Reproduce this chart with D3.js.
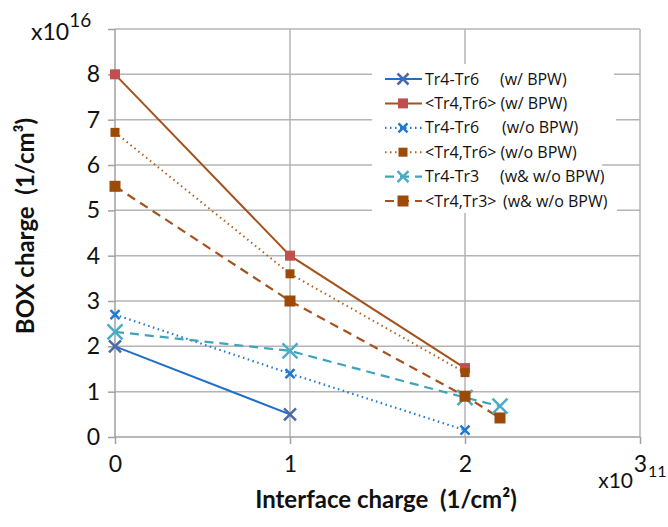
<!DOCTYPE html>
<html>
<head>
<meta charset="utf-8">
<script src="https://cdn.jsdelivr.net/npm/d3@7"></script>
<style>
  body { margin: 0; background: #fff; }
  svg { display: block; font-family: Lato, "Open Sans", sans-serif; }
</style>
</head>
<body>
<script>
// Chart data
var xTicks = [0, 1, 2, 3];
var yTicks = [0, 1, 2, 3, 4, 5, 6, 7, 8, 9];
var yTickLabels = ["0", "1", "2", "3", "4", "5", "6", "7", "8", ""];

var seriesNames = ["Tr4-Tr6", "<Tr4,Tr6> (w/ BPW)", "Tr4-Tr6", "<Tr4,Tr6> (w/o BPW)", "Tr4-Tr3", "<Tr4,Tr3>"];
var seriesNotes = ["(w/ BPW)", "", "(w/o BPW)", "", "(w& w/o BPW)", "(w& w/o BPW)"];
var seriesX = [
  [0, 1],
  [0, 1, 2],
  [0, 1, 2],
  [0, 1, 2],
  [0, 1, 2, 2.2],
  [0, 1, 2, 2.2]
];
var seriesY = [
  [2.0, 0.5],
  [8.0, 4.0, 1.52],
  [2.7, 1.4, 0.15],
  [6.72, 3.6, 1.42],
  [2.32, 1.9, 0.87, 0.68],
  [5.53, 3.0, 0.9, 0.42]
];

// Styles for each series
var styles = [
  {line: "#1f6fc9", dash: null, marker: "x", mcolor: "#4a6aaa", size: 12, width: 2},
  {line: "#a5521c", dash: null, marker: "sq", mcolor: "#c0504d", size: 10, width: 2},
  {line: "#1f78d1", dash: "1.5,3.5", marker: "x", mcolor: "#1f78d1", size: 9, width: 2.2},
  {line: "#b0601f", dash: "1.5,3.5", marker: "sq", mcolor: "#9c4a08", size: 9, width: 2},
  {line: "#3fa3bd", dash: "9,6", marker: "x", mcolor: "#4bacc6", size: 15, width: 2.2},
  {line: "#a5521c", dash: "9,6", marker: "sq", mcolor: "#9c4a08", size: 11, width: 2.2}
];
var legendNoteX = [128, 0, 130, 0, 128, 131];

var svgWidth = 668;
var svgHeight = 527;
var margin = {top: 29, right: 28, bottom: 90, left: 115};
var chartWidth = svgWidth - margin.left - margin.right;
var chartHeight = svgHeight - margin.top - margin.bottom;

var svg = d3.select("body")
  .append("svg")
  .attr("width", svgWidth)
  .attr("height", svgHeight);

var chartGroup = svg.append("g")
  .attr("transform", `translate(${margin.left}, ${margin.top})`);

var xScale = d3.scaleLinear().domain([0, 3]).range([0, chartWidth]);
var yScale = d3.scaleLinear().domain([0, 9]).range([chartHeight, 0]);

var gridColor = "#b4b4b4";

// gridlines
chartGroup.selectAll(".hgrid")
  .data(yTicks.slice(1))
  .enter()
  .append("line")
  .attr("x1", 0).attr("x2", chartWidth)
  .attr("y1", d => yScale(d)).attr("y2", d => yScale(d))
  .attr("stroke", gridColor).attr("stroke-width", 1.5);

chartGroup.selectAll(".vgrid")
  .data(xTicks.slice(1))
  .enter()
  .append("line")
  .attr("x1", d => xScale(d)).attr("x2", d => xScale(d))
  .attr("y1", 0).attr("y2", chartHeight)
  .attr("stroke", gridColor).attr("stroke-width", 1.5);

// axes
var leftAxis = d3.axisLeft(yScale).tickValues(yTicks)
  .tickFormat((d, i) => yTickLabels[i]).tickSize(7).tickPadding(8);
var bottomAxis = d3.axisBottom(xScale).tickValues(xTicks)
  .tickFormat(d3.format("d")).tickSize(7).tickPadding(12);

var yAxisG = chartGroup.append("g").call(leftAxis);
var xAxisG = chartGroup.append("g")
  .attr("transform", `translate(0, ${chartHeight})`)
  .call(bottomAxis);

[yAxisG, xAxisG].forEach(function(g) {
  g.select(".domain").attr("stroke", "#a0a0a0").attr("stroke-width", 1.5);
  g.selectAll(".tick line").attr("stroke", "#a0a0a0").attr("stroke-width", 1.5);
  g.selectAll(".tick text")
    .attr("fill", "#111")
    .style("font-size", "23px")
    .style("font-family", "Lato, sans-serif");
});
yAxisG.select(".domain").attr("d", `M0,${chartHeight}V0`);
xAxisG.select(".domain").attr("d", `M0,0H${chartWidth}`);

// series lines
var line = d3.line()
  .x(d => xScale(d[0]))
  .y(d => yScale(d[1]));

function drawMarker(g, type, color, size, cx, cy) {
  if (type === "sq") {
    g.append("rect")
      .attr("x", cx - size / 2).attr("y", cy - size / 2)
      .attr("width", size).attr("height", size)
      .attr("fill", color);
  } else {
    var h = size / 2;
    g.append("path")
      .attr("d", `M${cx - h},${cy - h}L${cx + h},${cy + h}M${cx - h},${cy + h}L${cx + h},${cy - h}`)
      .attr("stroke", color).attr("stroke-width", 2.5).attr("fill", "none");
  }
}

seriesY.forEach(function(ys, i) {
  var pts = ys.map((y, j) => [seriesX[i][j], y]);
  var st = styles[i];
  chartGroup.append("path")
    .datum(pts)
    .attr("d", line)
    .attr("fill", "none")
    .attr("stroke", st.line)
    .attr("stroke-width", st.width)
    .attr("stroke-dasharray", st.dash);
});

seriesY.forEach(function(ys, i) {
  var st = styles[i];
  var mg = chartGroup.append("g");
  ys.forEach(function(y, j) {
    drawMarker(mg, st.marker, st.mcolor, st.size, xScale(seriesX[i][j]), yScale(y));
  });
});

// legend
var legend = svg.append("g").attr("transform", "translate(372, 64)");
legend.append("rect")
  .attr("x", 0).attr("y", 0)
  .attr("width", 230).attr("height", 149)
  .attr("fill", "#fff");

seriesNames.forEach(function(name, i) {
  var st = styles[i];
  var y = 15 + i * 24.4;
  var row = legend.append("g");
  row.append("line")
    .attr("x1", 13).attr("x2", 50).attr("y1", y).attr("y2", y)
    .attr("stroke", st.line).attr("stroke-width", st.width)
    .attr("stroke-dasharray", st.dash);
  drawMarker(row, st.marker, st.mcolor, Math.min(st.size, 11), 31, y);
  row.append("text")
    .attr("x", 53).attr("y", y + 5.5)
    .style("font-size", "16px")
    .style("font-family", "'Open Sans', sans-serif")
    .attr("fill", "#111")
    .text(name);
  if (seriesNotes[i]) {
    row.append("rect")
      .attr("x", legendNoteX[i] - 2).attr("y", y - 10)
      .attr("width", 116).attr("height", 21)
      .attr("fill", "#fff");
    row.append("text")
      .attr("x", legendNoteX[i]).attr("y", y + 5.5)
      .style("font-size", "16px")
      .style("font-family", "'Open Sans', sans-serif")
      .attr("fill", "#111")
      .text(seriesNotes[i]);
  }
});

// exponent labels
var yExp = svg.append("text").attr("x", 31).attr("y", 40)
  .style("font-size", "23px").attr("fill", "#111");
yExp.append("tspan").text("x10");
yExp.append("tspan").attr("dy", -13).style("font-size", "19px").text("16");

svg.append("text").attr("x", 633).attr("y", 488)
  .attr("text-anchor", "end")
  .style("font-size", "21px").attr("fill", "#111")
  .text("x10");
svg.append("text").attr("x", 648).attr("y", 477)
  .style("font-size", "16px").attr("fill", "#111")
  .text("11");

// axis titles
svg.append("text")
  .attr("x", 386).attr("y", 508)
  .attr("text-anchor", "middle")
  .style("font-size", "24px").style("font-weight", "bold")
  .style("white-space", "pre")
  .attr("fill", "#111")
  .text("Interface charge  (1/cm²)");

svg.append("text")
  .attr("transform", "translate(34, 226) rotate(-90)")
  .attr("text-anchor", "middle")
  .style("font-size", "24px").style("font-weight", "bold")
  .style("white-space", "pre")
  .attr("fill", "#111")
  .text("BOX charge  (1/cm³)");
</script>
</body>
</html>
